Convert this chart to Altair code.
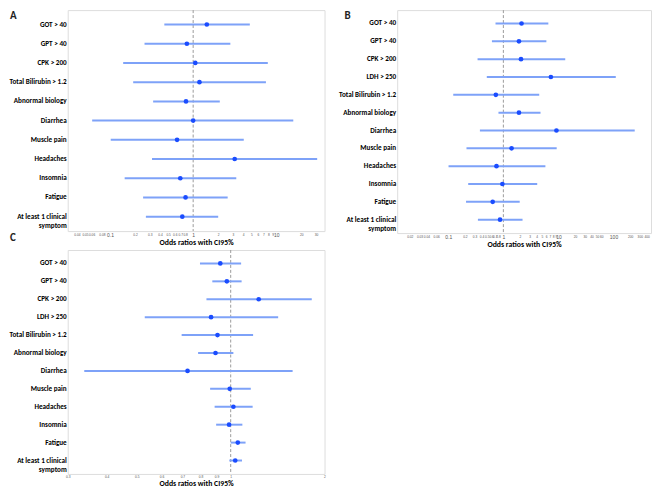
import altair as alt
import pandas as pd

# ---- Panel A ----
a_labels = ["GOT > 40", "GPT > 40", "CPK > 200", "Total Bilirubin > 1.2", "Abnormal biology",
            "Diarrhea", "Muscle pain", "Headaches", "Insomnia", "Fatigue", "At least 1 clinical symptom"]
a_or = [1.46, 0.84, 1.06, 1.19, 0.82, 1.0, 0.64, 3.16, 0.70, 0.81, 0.74]
a_lo = [0.45, 0.26, 0.144, 0.19, 0.33, 0.061, 0.102, 0.32, 0.15, 0.25, 0.27]
a_hi = [4.8, 2.8, 7.9, 7.5, 2.09, 16, 4.06, 31, 3.3, 2.6, 2.0]
a_ticks = [0.04, 0.05, 0.06, 0.08, 0.1, 0.2, 0.3, 0.4, 0.5, 0.6, 0.7, 0.8, 1,
           2, 3, 4, 5, 6, 7, 8, 9, 10, 20, 30]

# ---- Panel B ----
b_labels = ["GOT > 40", "GPT > 40", "CPK > 200", "LDH > 250", "Total Bilirubin > 1.2", "Abnormal biology",
            "Diarrhea", "Muscle pain", "Headaches", "Insomnia", "Fatigue", "At least 1 clinical symptom"]
b_or = [2.14, 1.92, 2.09, 7.3, 0.73, 1.92, 9.2, 1.41, 0.75, 0.96, 0.64, 0.87]
b_lo = [0.72, 0.62, 0.34, 0.50, 0.123, 0.815, 0.375, 0.214, 0.101, 0.23, 0.21, 0.345]
b_hi = [6.56, 6.04, 13.3, 110, 4.48, 4.73, 243, 9.3, 5.8, 4.12, 1.98, 2.23]
b_ticks = [0.02, 0.03, 0.04, 0.06, 0.1, 0.2, 0.3, 0.4, 0.5, 0.6, 0.7, 0.8, 1,
           2, 3, 4, 5, 6, 7, 8, 9, 10, 20, 30, 40, 50, 60, 100, 200, 300, 400]

# ---- Panel C ----
c_labels = b_labels
c_or = [0.926, 0.972, 1.23, 0.865, 0.907, 0.894, 0.727, 0.993, 1.02, 0.988, 1.054, 1.034]
c_lo = [0.797, 0.873, 0.836, 0.53, 0.696, 0.786, 0.339, 0.859, 0.888, 0.898, 1.0, 0.99]
c_hi = [1.08, 1.084, 1.82, 1.42, 1.18, 1.02, 1.58, 1.16, 1.176, 1.09, 1.116, 1.087]
c_ticks = [0.3, 0.4, 0.5, 0.6, 0.7, 0.8, 0.9, 1, 2]

FONT = "Carlito, Lato, Liberation Sans"
MAJOR = "datum.value == 0.1 || datum.value == 1 || datum.value == 10 || datum.value == 100"


def panel(labels, orv, lo, hi, domain, ticks, w, h, letters, major=True):
    df = pd.DataFrame({"label": labels, "or": orv, "lo": lo, "hi": hi})
    xs = alt.Scale(type="log", domain=domain, nice=False)
    lab_size = {"condition": {"test": MAJOR, "value": 5}, "value": 3.2} if major else 3.3
    xaxis = alt.Axis(
        title="Odds ratios with CI95%", values=ticks, format="~g", ticks=False, domain=False,
        grid=False, labelOverlap=False, labelFlush=False, labelFontSize=lab_size,
        labelColor="#555555", labelPadding=1, titleFont=FONT, titleFontSize=7.8,
        titleFontWeight="bold", titleColor="black", titlePadding=1,
    )
    yaxis = alt.Axis(
        title=None, ticks=False, domain=False, grid=False, labelFont=FONT,
        labelFontSize=7.2, labelFontWeight="bold", labelColor="black", labelPadding=1.5,
        labelLineHeight=9.5,
        labelExpr="datum.label == 'At least 1 clinical symptom' ? ['At least 1 clinical', 'symptom'] : datum.label",
    )
    y = alt.Y("label:N", sort=labels, axis=yaxis, scale=alt.Scale(padding=0.5))
    ref = alt.Chart(pd.DataFrame({"v": [1]})).mark_rule(
        color="#9a9a9a", strokeWidth=1, strokeDash=[3, 2]
    ).encode(x=alt.X("v:Q", scale=xs, axis=xaxis))
    ci = alt.Chart(df).mark_rule(color="#7ea2f8", strokeWidth=2).encode(
        x=alt.X("lo:Q", scale=xs, axis=xaxis), x2="hi:Q", y=y
    )
    pt = alt.Chart(df).mark_circle(color="#1a4cff", size=22, opacity=1).encode(
        x=alt.X("or:Q", scale=xs, axis=xaxis), y=y
    )
    layers = [ref, ci, pt]
    for txt, lx, ly in letters:
        layers.append(
            alt.Chart(pd.DataFrame({"t": [txt]})).mark_text(
                align="left", baseline="top", fontSize=11, fontWeight="bold",
                font=FONT, color="#222222"
            ).encode(x=alt.value(lx), y=alt.value(ly), text="t:N")
        )
    return alt.layer(*layers).properties(width=w, height=h)


pa = panel(a_labels, a_or, a_lo, a_hi, [0.031, 38], a_ticks, 258, 222,
           [("A", -58, 0), ("C", -58, 223)])
pb = panel(b_labels, b_or, b_lo, b_hi, [0.0118, 480], b_ticks, 255, 224,
           [("B", -53, 0)])
pc = panel(c_labels, c_or, c_lo, c_hi, [0.3, 2.0], c_ticks, 258, 225, [], major=False)

chart = alt.vconcat(
    alt.hconcat(pa, pb, spacing=12),
    pc,
    spacing=0,
).properties(padding=0).configure_view(stroke="#d4d4d4", strokeWidth=1.5).configure(
    background="white"
)

chart.save("out.html", embed_options={"renderer": "svg", "actions": False})
